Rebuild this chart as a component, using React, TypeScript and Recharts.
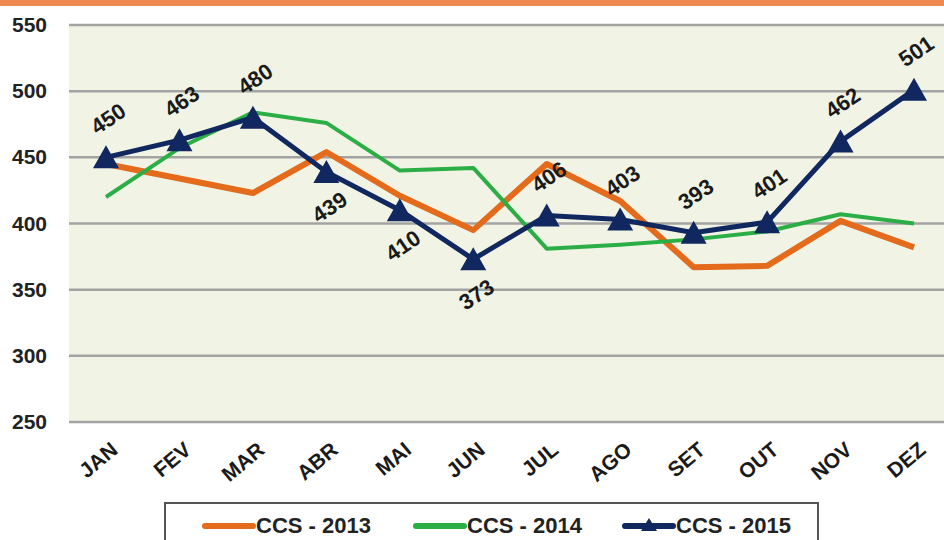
import React from 'react'
import { LineChart, Line, XAxis, YAxis, CartesianGrid, LabelList } from 'recharts'

const months = ['JAN', 'FEV', 'MAR', 'ABR', 'MAI', 'JUN', 'JUL', 'AGO', 'SET', 'OUT', 'NOV', 'DEZ']
const ccs2013 = [445, 434, 423, 454, 421, 395, 445, 417, 367, 368, 402, 382]
const ccs2014 = [420, 457, 484, 476, 440, 442, 381, 384, 388, 394, 407, 400]
const ccs2015 = [450, 463, 480, 439, 410, 373, 406, 403, 393, 401, 462, 501]
const yTicks = [250, 300, 350, 400, 450, 500, 550]
const labelsBelow = ['ABR', 'MAI', 'JUN']

const ORANGE = '#E46A1C'
const GREEN = '#2AAE45'
const NAVY = '#10275F'
const FONT = '"Liberation Sans", Arial, sans-serif'

const data = months.map((m, i) => ({
  month: m,
  a: ccs2013[i],
  b: ccs2014[i],
  c: ccs2015[i],
}))

function YTick({ y, payload }: any) {
  return (
    <text x={47} y={y} dy={7} textAnchor="end" fontFamily={FONT} fontWeight="bold" fontSize={21} fill="#222">
      {payload.value}
    </text>
  )
}

function XTick({ x, y, payload }: any) {
  const tx = x + 13
  const ty = y + 22
  return (
    <text
      x={tx}
      y={ty}
      textAnchor="end"
      fontFamily={FONT}
      fontWeight="bold"
      fontSize={21}
      fill="#1a1a1a"
      transform={`rotate(-40, ${tx}, ${ty})`}
    >
      {payload.value}
    </text>
  )
}

function Triangle({ cx, cy }: any) {
  if (cx == null || cy == null) return null
  return <polygon points={`${cx},${cy - 12} ${cx - 13},${cy + 11} ${cx + 13},${cy + 11}`} fill={NAVY} />
}

function PointLabel({ x, y, value, index }: any) {
  const below = labelsBelow.includes(months[index])
  const cx = x + (below ? 3 : 2)
  const cy = below ? y + 35 : y - 39
  return (
    <text
      x={cx}
      y={cy}
      dy={8}
      textAnchor="middle"
      fontFamily={FONT}
      fontWeight="bold"
      fontSize={22}
      fill="#1a1a1a"
      transform={`rotate(-34, ${cx}, ${cy})`}
    >
      {value}
    </text>
  )
}

function LegendItem({ color, label, marker }: { color: string; label: string; marker?: boolean }) {
  return (
    <div style={{ display: 'flex', alignItems: 'center' }}>
      <svg width={54} height={24}>
        <line x1={3} y1={12} x2={51} y2={12} stroke={color} strokeWidth={6} strokeLinecap="round" />
        {marker && <polygon points="27,4 19,17 35,17" fill={color} />}
      </svg>
      <span style={{ fontFamily: FONT, fontWeight: 'bold', fontSize: 22, color: '#222' }}>{label}</span>
    </div>
  )
}

export default function App() {
  return (
    <div style={{ position: 'absolute', left: 0, top: 0, width: 944, height: 540, overflow: 'hidden', background: '#fff' }}>
      <div style={{ position: 'absolute', left: 0, top: 0, width: 944, height: 6, background: '#EE8A50' }} />
      <LineChart width={960} height={540} data={data} margin={{ top: 25, right: 9, left: 9, bottom: 0 }}>
        <CartesianGrid vertical={false} stroke="#A3A3A3" strokeWidth={2.5} fill="#F1F4E4" fillOpacity={1} />
        <XAxis
          dataKey="month"
          height={118}
          axisLine={false}
          tickLine={false}
          interval={0}
          padding={{ left: 37, right: 37 }}
          tick={<XTick />}
        />
        <YAxis
          width={60}
          domain={[250, 550]}
          ticks={yTicks}
          axisLine={false}
          tickLine={false}
          tick={<YTick />}
        />
        <Line dataKey="a" stroke={ORANGE} strokeWidth={6} dot={false} isAnimationActive={false} strokeLinejoin="round" />
        <Line dataKey="b" stroke={GREEN} strokeWidth={4} dot={false} isAnimationActive={false} strokeLinejoin="round" />
        <Line dataKey="c" stroke={NAVY} strokeWidth={5} dot={<Triangle />} isAnimationActive={false}>
          <LabelList dataKey="c" content={<PointLabel />} />
        </Line>
      </LineChart>
      <div
        style={{
          position: 'absolute',
          left: 164,
          top: 502,
          width: 655,
          height: 60,
          border: '2px solid #555',
          boxSizing: 'border-box',
          background: '#fff',
        }}
      >
        <div style={{ position: 'absolute', left: 36, top: 9 }}>
          <LegendItem color={ORANGE} label="CCS - 2013" />
        </div>
        <div style={{ position: 'absolute', left: 247, top: 9 }}>
          <LegendItem color={GREEN} label="CCS - 2014" />
        </div>
        <div style={{ position: 'absolute', left: 456, top: 9 }}>
          <LegendItem color={NAVY} label="CCS - 2015" marker />
        </div>
      </div>
    </div>
  )
}
